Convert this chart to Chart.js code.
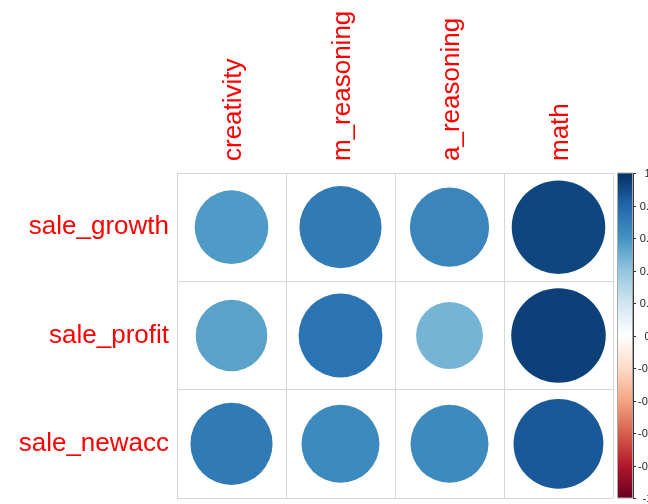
<!DOCTYPE html>
<html>
<head>
<meta charset="utf-8">
<script src="https://cdn.jsdelivr.net/npm/chart.js@4/dist/chart.umd.min.js"></script>
<style>
    html, body { margin: 0; padding: 0; background: #fff; }
    canvas { display: block; }
</style>
</head>
<body>
<canvas id="corrChart" width="648" height="504"></canvas>
<script>
// Biến và hệ số tương quan
const columns = ['creativity', 'm_reasoning', 'a_reasoning', 'math'];
const rows = ['sale_growth', 'sale_profit', 'sale_newacc'];
const saleGrowth = [0.57, 0.71, 0.66, 0.92];
const saleProfit = [0.54, 0.74, 0.47, 0.94];
const saleNewacc = [0.71, 0.64, 0.64, 0.85];
const legendTicks = [1, 0.8, 0.6, 0.4, 0.2, 0, -0.2, -0.4, -0.6, -0.8, -1];

// Bảng màu RdBu từ -1 đến 1
const paletteStops = ['#67001F', '#B2182B', '#D6604D', '#F4A582', '#FDDBC7', '#FFFFFF',
    '#D1E5F0', '#92C5DE', '#4393C3', '#2166AC', '#053061'];

const labelFont = '"Liberation Sans", Arial, sans-serif';
const gridColor = '#d6d6d6';

function hexToRgb(hex) {
    const n = parseInt(hex.slice(1), 16);
    return [(n >> 16) & 255, (n >> 8) & 255, n & 255];
}

// Nội suy màu theo giá trị tương quan
function colorFor(v) {
    const t = (v + 1) / 2 * (paletteStops.length - 1);
    const i = Math.min(Math.floor(t), paletteStops.length - 2);
    const f = t - i;
    const a = hexToRgb(paletteStops[i]);
    const b = hexToRgb(paletteStops[i + 1]);
    const c = a.map((x, k) => Math.round(x + (b[k] - x) * f));
    return `rgb(${c[0]}, ${c[1]}, ${c[2]})`;
}

const matrix = [saleGrowth, saleProfit, saleNewacc];
const points = [];
rows.forEach((row, ri) => {
    matrix[ri].forEach((v, ci) => {
        points.push({ x: columns[ci], y: row, v: v });
    });
});

// Bỏ phần đệm nhãn để lưới khít vùng vẽ
function noLabelPadding(s) {
    s.paddingTop = 0;
    s.paddingBottom = 0;
    s.paddingLeft = 0;
    s.paddingRight = 0;
}

// Thanh màu bên phải
const colorBarPlugin = {
    id: 'colorBar',
    afterDraw(chart) {
        const sc = chart.scales.cb;
        const ctx = chart.ctx;
        const area = chart.chartArea;
        const left = area.right + 5;
        const w = 15;
        const top = sc.getPixelForValue(1);
        const bottom = sc.getPixelForValue(-1);

        ctx.save();
        const grad = ctx.createLinearGradient(0, bottom, 0, top);
        paletteStops.forEach((c, i) => grad.addColorStop(i / (paletteStops.length - 1), c));
        ctx.fillStyle = grad;
        ctx.fillRect(left, top, w, bottom - top);

        ctx.strokeStyle = '#aaaaaa';
        ctx.lineWidth = 1;
        ctx.strokeRect(left - 0.5, top, w, bottom - top);

        ctx.strokeStyle = '#333333';
        ctx.beginPath();
        ctx.moveTo(left + w + 0.5, top);
        ctx.lineTo(left + w + 0.5, bottom);
        ctx.stroke();

        ctx.fillStyle = '#222222';
        ctx.font = '11px ' + labelFont;
        ctx.textAlign = 'center';
        ctx.textBaseline = 'middle';
        legendTicks.forEach(v => {
            const y = Math.round(sc.getPixelForValue(v)) + 0.5;
            ctx.beginPath();
            ctx.moveTo(left + w, y);
            ctx.lineTo(left + w + 3, y);
            ctx.stroke();
            ctx.fillText(String(v), left + w + 14.5, y);
        });
        ctx.restore();
    }
};

new Chart(document.getElementById('corrChart'), {
    type: 'scatter',
    data: {
        datasets: [{
            data: points,
            xAxisID: 'x',
            yAxisID: 'y',
            pointRadius: ctx => {
                if (!ctx.raw) return 0;
                const xs = ctx.chart.scales.x;
                const ys = ctx.chart.scales.y;
                const cell = Math.min(xs.width / columns.length, ys.height / rows.length);
                return 0.45 * Math.sqrt(Math.abs(ctx.raw.v)) * cell;
            },
            pointBackgroundColor: ctx => ctx.raw ? colorFor(ctx.raw.v) : '#fff',
            pointBorderWidth: 0,
            pointBorderColor: 'rgba(0,0,0,0)'
        }]
    },
    options: {
        responsive: false,
        animation: false,
        events: [],
        layout: { padding: { left: 0, top: 0, right: 35, bottom: 6 } },
        plugins: {
            legend: { display: false },
            tooltip: { enabled: false }
        },
        scales: {
            x: {
                type: 'category',
                labels: columns,
                position: 'top',
                offset: true,
                grid: { offset: true, color: gridColor, drawTicks: false },
                border: { color: gridColor },
                ticks: {
                    color: '#ff0000',
                    font: { family: labelFont, size: 26 },
                    minRotation: 90,
                    maxRotation: 90,
                    autoSkip: false,
                    padding: 12,
                    labelOffset: 34
                },
                afterFit: s => { s.height = 173; noLabelPadding(s); }
            },
            y: {
                type: 'category',
                labels: rows,
                offset: true,
                grid: { offset: true, color: gridColor, drawTicks: false },
                border: { color: gridColor },
                ticks: {
                    color: '#ff0000',
                    font: { family: labelFont, size: 26 },
                    autoSkip: false,
                    padding: 8
                },
                afterFit: s => { s.width = 177; noLabelPadding(s); }
            },
            cb: {
                type: 'linear',
                position: 'right',
                min: -1,
                max: 1,
                display: false
            }
        }
    },
    plugins: [colorBarPlugin]
});
</script>
</body>
</html>
